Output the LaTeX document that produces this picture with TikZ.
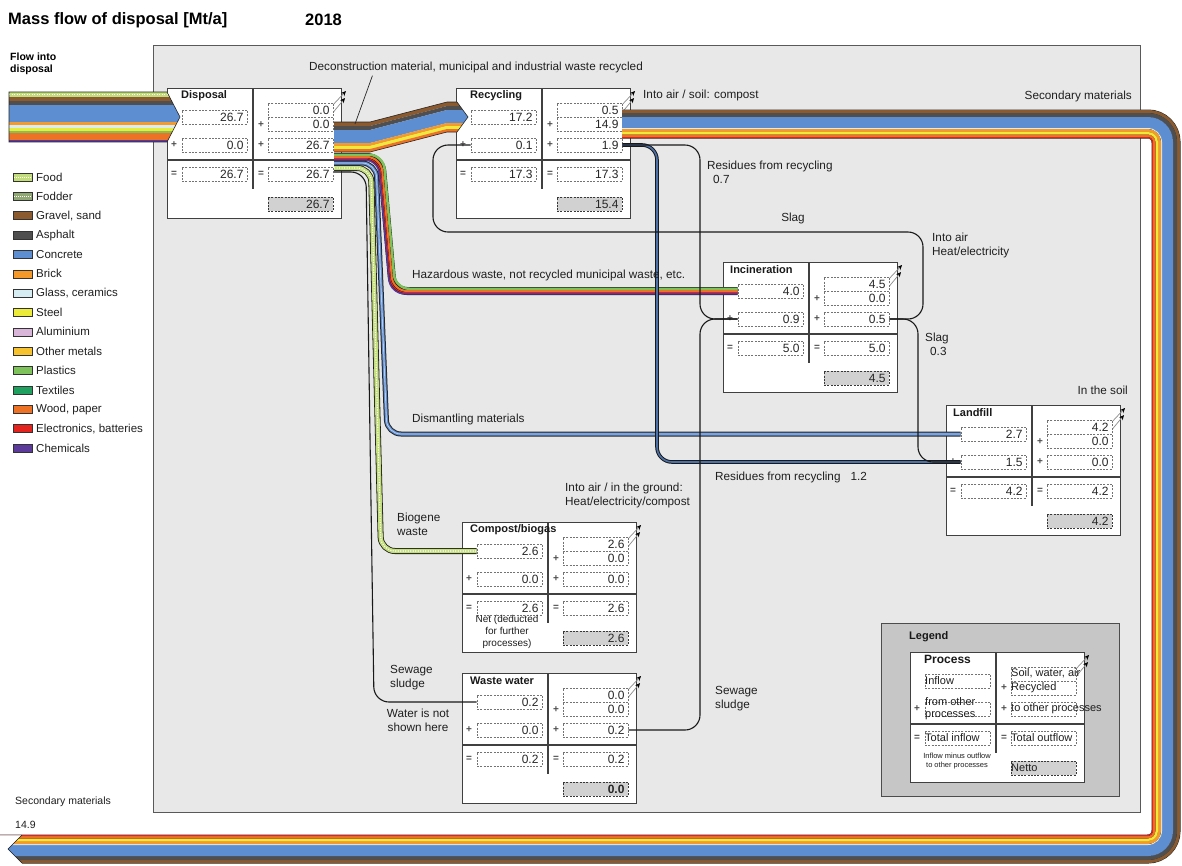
\documentclass[tikz,border=0pt]{standalone}
\usepackage{fontspec}
\setmainfont{Liberation Sans}
\usetikzlibrary{arrows.meta,calc}
\definecolor{cFood}{HTML}{C2DD7A}
\definecolor{cFodder}{HTML}{8FA874}
\definecolor{cGravel}{HTML}{8B5A2E}
\definecolor{cAsphalt}{HTML}{4F4F4F}
\definecolor{cConcrete}{HTML}{5E8ED2}
\definecolor{cBrick}{HTML}{F59A2A}
\definecolor{cGlass}{HTML}{D6EDF3}
\definecolor{cSteel}{HTML}{ECEB3A}
\definecolor{cAlu}{HTML}{D9B6D9}
\definecolor{cOther}{HTML}{F6C22E}
\definecolor{cPlastics}{HTML}{7DC25B}
\definecolor{cTextiles}{HTML}{1FA05E}
\definecolor{cWood}{HTML}{EE7226}
\definecolor{cElec}{HTML}{E4231E}
\definecolor{cChem}{HTML}{5B3A9B}
\definecolor{panel}{HTML}{E8E8E8}
\definecolor{legbg}{HTML}{C6C6C6}
\tikzset{
  lbl/.style={font=\fontsize{11.75}{14}\selectfont, text=black!88, inner sep=0pt},
  lglbl/.style={font=\fontsize{11}{12}\selectfont, text=black!88, inner sep=0pt, anchor=west},
  lblsm/.style={font=\fontsize{11.5}{13}\selectfont, text=black!88, inner sep=0pt, anchor=west},
  vbox/.style={draw=black!55, dash pattern=on 2pt off 1.3pt, line width=0.75pt, fill=white, text width=58pt, align=right, inner xsep=3.5pt, inner ysep=0pt, minimum height=14pt, font=\fontsize{12}{12}\selectfont, text=black!85},
  nbox/.style={vbox, fill=black!18, draw=black!78, line width=0.95pt},
  pframe/.style={draw=black!75, line width=1pt, fill=white},
  pdiv/.style={draw=black!75, line width=1.1pt},
  ptitle/.style={font=\bfseries\fontsize{11}{12}\selectfont, anchor=west, inner sep=0pt, text=black!90},
  sgn/.style={font=\bfseries\fontsize{10}{10}\selectfont, inner sep=0pt, text=black!70},
  outarr/.style={draw=black!45, line width=0.7pt, -{Stealth[length=5pt,width=4.5pt,color=black]}},
  blk/.style={draw=black!90, line width=1.1pt, rounded corners=15pt},
  pics/pframe/.style={code={
    \draw[pframe] (0,0) rectangle (174,130);
    \draw[pdiv] (86,0) -- (86,101);
    \draw[pdiv] (0,72) -- (174,72);
    \draw[outarr] (164,19) -- (179,3);
    \draw[outarr] (164,27) -- (178,10);
  }},
  pics/proc/.style n args={8}{code={
    \pic {pframe};
    \node[vbox] (-l1) at (47.5,29) {#1};
    \node[vbox] (-l2) at (47.5,57) {#2};
    \node[vbox] (-l3) at (47.5,86) {#3};
    \node[vbox] (-r1a) at (133.5,22) {#4};
    \node[vbox] (-r1b) at (133.5,36) {#5};
    \node[vbox] (-r2) at (133.5,57) {#6};
    \node[vbox] (-r3) at (133.5,86) {#7};
    \node[nbox] (-n) at (133.5,116) {#8};
    \node[sgn] (-s1) at (7,57) {+};
    \node[sgn] (-s2) at (7,86) {=};
    \node[sgn] (-s3) at (94,37) {+};
    \node[sgn] (-s4) at (94,57) {+};
    \node[sgn] (-s5) at (94,86) {=};
  }},
}
\begin{document}
\begin{tikzpicture}[x=1pt,y=-1pt]
\useasboundingbox (0,0) rectangle (1182,865);
\fill[white] (0,0) rectangle (1182,865);
% titles
\node[anchor=west, font=\bfseries\fontsize{16.5}{18}\selectfont, inner sep=0pt] (title) at (8,20) {Mass flow of disposal [Mt/a]};
\node[anchor=west, font=\bfseries\fontsize{16.5}{18}\selectfont, inner sep=0pt] (year) at (305,20) {2018};
\node[anchor=west, font=\bfseries\fontsize{10.5}{12}\selectfont, align=left, inner sep=0pt] (flowin) at (10,64) {Flow into\\disposal};
% panel
\draw[black!65, fill=panel, line width=1pt] (153,45) rectangle (1140,812);
% material legend
\foreach \swc/\swn [count=\i from 0] in {cFood/Food, cFodder/Fodder, cGravel/{Gravel, sand}, cAsphalt/Asphalt, cConcrete/Concrete, cBrick/Brick, cGlass/{Glass, ceramics}, cSteel/Steel, cAlu/Aluminium, cOther/Other metals, cPlastics/Plastics, cTextiles/Textiles, cWood/{Wood, paper}, cElec/{Electronics, batteries}, cChem/Chemicals}{
  \pgfmathsetmacro\yy{177+19.36*\i}
  \draw[black!80, fill=\swc, line width=0.5pt] (13,\yy-4) rectangle (32,\yy+4);
  \node[lblsm] (leg\i) at (36,\yy) {\swn};
}
\draw[white, line width=1pt, dash pattern=on 1pt off 1pt] (14,177) -- (31,177);
\draw[white, line width=1pt, dash pattern=on 1pt off 1pt] (14,196.4) -- (31,196.4);
% processes
\pic (disp) at (167,88) {proc={26.7}{0.0}{26.7}{0.0}{0.0}{26.7}{26.7}{26.7}};
\node[ptitle] (disp-t) at (181,96) {Disposal};
\pic (rec) at (456,88) {proc={17.2}{0.1}{17.3}{0.5}{14.9}{1.9}{17.3}{15.4}};
\node[ptitle] (rec-t) at (470,96) {Recycling};
\pic (inc) at (723,262) {proc={4.0}{0.9}{5.0}{4.5}{0.0}{0.5}{5.0}{4.5}};
\node[ptitle] (inc-t) at (730,270) {Incineration};
\pic (land) at (946,405) {proc={2.7}{1.5}{4.2}{4.2}{0.0}{0.0}{4.2}{4.2}};
\node[ptitle] (land-t) at (953,413) {Landfill};
\pic (comp) at (462,522) {proc={2.6}{0.0}{2.6}{2.6}{0.0}{0.0}{2.6}{2.6}};
\node[ptitle] (comp-t) at (470,530) {Compost/biogas};
\node[lbl, align=center, font=\fontsize{10}{12}\selectfont] (comp-note) at (507,632) {Net (deducted\\for further\\processes)};
\pic (ww) at (462,673) {proc={0.2}{0.0}{0.2}{0.0}{0.0}{0.2}{0.2}{\textbf{0.0}}};
\node[ptitle] (ww-t) at (470,681) {Waste water};
% inflow band
\begin{scope}
\clip (9,92) -- (167,92) -- (180,117) -- (167,142) -- (9,142) -- cycle;
\foreach \bc/\ba/\bb in {cFood/92/97, cGravel/97/101, cAsphalt/101/105, cConcrete/105/122, cBrick/122/125, cGlass/125/128, cSteel/128/131, cPlastics/131/133, cWood/133/140, cChem/140/142}
  \fill[\bc] (9,\ba) rectangle (181,\bb);
\draw[white, line width=1.1pt, dash pattern=on 1.2pt off 1.3pt] (9,94.5) -- (181,94.5);
\end{scope}
\draw[black!85, line width=0.6pt] (9,92) -- (167,92) -- (180,117) -- (167,142) -- (9,142) -- cycle;
% recycled band
\begin{scope}
\clip (330,60) -- (457,60) -- (457,102) -- (468,117) -- (457,132) -- (457,200) -- (330,200) -- cycle;
\foreach \bc/\ba/\bb in {cGravel/0/4, cAsphalt/4/8, cConcrete/8/21, cBrick/21/24, cSteel/24/27, cWood/27/30}{
  \fill[\bc] (334,{122+\ba}) -- (370,{122+\ba}) -- (447,{102+\ba}) -- (470,{102+\ba}) -- (470,{102+\bb}) -- (447,{102+\bb}) -- (370,{122+\bb}) -- (334,{122+\bb}) -- cycle;
}
\end{scope}
\draw[black!85, line width=0.6pt] (334,122) -- (370,122) -- (447,102) -- (457,102) -- (468,117) -- (457,132) -- (447,132) -- (370,152) -- (334,152);
% secondary materials band
\begin{scope}
\clip (0,0) -- (1182,0) -- (1182,865) -- (22,865) -- (22,863) -- (8,849) -- (22,835) -- (0,835) -- cycle;
\draw[black!85, line width=29pt, rounded corners=18pt] (622,124) -- (1166,124) -- (1166,849) -- (0,849);
\foreach \bc/\bd/\bw in {cGravel/0/3, cAsphalt/3/4, cConcrete/7/11, cGlass/18/1, cBrick/19/3, cSteel/22/2.5, cWood/24.5/2.5, cElec/27/1}{
  \pgfmathsetmacro\bo{\bd+\bw/2}
  \pgfmathsetmacro\br{32-\bo}
  \draw[\bc, line width=\bw pt, rounded corners=\br pt] (622,{110+\bo}) -- ({1180-\bo},{110+\bo}) -- ({1180-\bo},{863-\bo}) -- (0,{863-\bo});
}
\end{scope}
\draw[black!85, line width=0.6pt] (22,835) -- (8,849) -- (22,863);
% flows out of disposal
\coordinate (ex1) at (334,157);
\coordinate (ex2) at (334,163);
\coordinate (ex3) at (334,168);
\coordinate (ex4) at (334,172);
\draw[black!90, line width=1.1pt, rounded corners=15pt] (ex4) -- (366,172) -- (374,702) -- (ww-l1.west);
\draw[black!90, line width=6pt, rounded corners=14pt] (ex3) -- (371,168) -- (381,551) -- (comp-l1.west);
\draw[cFood, line width=4.4pt, rounded corners=14pt] (ex3) -- (371,168) -- (381,551) -- (comp-l1.west);
\draw[white, line width=1.1pt, dash pattern=on 1.2pt off 1.3pt, rounded corners=14pt] (ex3) -- (371,168) -- (381,551) -- (comp-l1.west);
\draw[black!85, line width=5pt, rounded corners=14pt] (ex2) -- (376,163) -- (387,434) -- (land-l1.west);
\draw[cConcrete, line width=3pt, rounded corners=14pt] (ex2) -- (376,163) -- (387,434) -- (land-l1.west);
\draw[cConcrete!45!white, line width=0.8pt, rounded corners=14pt] (ex2) -- (376,163) -- (387,434) -- (land-l1.west);
\draw[black!90, line width=8pt, rounded corners=14pt] (ex1) -- (381,157) -- (393,291) -- (inc-l1.west);
\foreach \bc/\bof/\bw in {cPlastics/2.25/2.5, cWood/0/2, cElec/-1.5/1, cChem/-2.75/1.5}
  \draw[\bc, line width=\bw pt, rounded corners=14pt] ($(ex1)+(0,{-(\bof)})$) -- ({381+\bof},{157-(\bof)}) -- ({393+\bof},{291-(\bof)}) -- ($(inc-l1.west)+(0,{-(\bof)})$);
% other connectors
\draw[black!90, line width=3.6pt, rounded corners=15pt] (rec-r2.east) -- (657,145) -- (657,462) -- (land-l2.west);
\draw[cConcrete!80!black, line width=1.6pt, rounded corners=15pt] (rec-r2.east) -- (657,145) -- (657,462) -- (land-l2.west);
\draw[blk] (rec-r2.east) -- (700,145) -- (700,319) -- (inc-l2.west);
\draw[blk] (ww-r2.east) -- (700,730) -- (700,319) -- (inc-l2.west);
\draw[blk] (inc-r2.east) -- (923,319) -- (923,232) -- (433,232) -- (433,145) -- (rec-l2.west);
\draw[blk] (inc-r2.east) -- (918,319) -- (918,462) -- (land-l2.west);
% labels
\node[lbl] (decon) at (476,67) {Deconstruction material, municipal and industrial waste recycled};
\coordinate (deconpt) at (355,124);
\draw[black!85, line width=0.7pt] ($(decon.south west)!0.19!(decon.south east)+(0,3)$) -- (deconpt);
\node[lbl, anchor=west] (intoair1) at (643,95) {Into air / soil: compost};
\node[lbl, anchor=east] (secmat1) at (1132,96) {Secondary materials};
\node[lbl, anchor=north west, align=left] (resid07) at (707,161) {Residues from recycling\\\hspace*{6pt}0.7};
\node[lbl] (slag1) at (793,218) {Slag};
\node[lbl, anchor=north west, align=left] (intoair2) at (932,233) {Into air\\Heat/electricity};
\node[lbl, anchor=west] (hazl) at (412,275) {Hazardous waste, not recycled municipal waste, etc.};
\node[lbl, anchor=north west, align=left] (slag2) at (925,333) {Slag\\\hspace*{5pt}0.3};
\node[lbl, anchor=east] (soil) at (1128,390) {In the soil};
\node[lbl, anchor=west] (disml) at (412,419) {Dismantling materials};
\node[lbl, anchor=west] (resid12) at (715,477) {Residues from recycling\hspace{10pt}1.2};
\node[lbl, anchor=north west, align=left] (intoair3) at (565,483) {Into air / in the ground:\\Heat/electricity/compost};
\node[lbl, anchor=north west, align=left] (bio) at (397,513) {Biogene\\waste};
\node[lbl, anchor=north west, align=left] (sew1) at (390,665) {Sewage\\sludge};
\node[lbl, anchor=north, align=center] (water) at (418,709) {Water is not\\shown here};
\node[lbl, anchor=north west, align=left] (sew2) at (715,686) {Sewage\\sludge};
\node[lbl, anchor=west, font=\fontsize{10.5}{12}\selectfont] (secmat2) at (15,802) {Secondary materials};
\node[lbl, anchor=west, font=\fontsize{10.5}{12}\selectfont] (val149) at (15,825) {14.9};
% process legend
\draw[black!70, fill=legbg, line width=1pt] (881,623) rectangle (1119,796);
\node[ptitle] (legt) at (909,637) {Legend};
\pic (lg) at (910,652) {pframe};
\node[ptitle, font=\bfseries\fontsize{12}{13}\selectfont] (lg-t) at (924,659) {Process};
\node[vbox] (lg-l1) at (957.5,681) {};
\node[vbox] (lg-l2) at (957.5,709) {};
\node[vbox] (lg-l3) at (957.5,738) {};
\node[vbox] (lg-r1a) at (1043.5,674) {};
\node[vbox] (lg-r1b) at (1043.5,688) {};
\node[vbox] (lg-r2) at (1043.5,709) {};
\node[vbox] (lg-r3) at (1043.5,738) {};
\node[nbox] (lg-n) at (1043.5,768) {};
\node[sgn] (lg-s1) at (917,709) {+};
\node[sgn] (lg-s2) at (917,738) {=};
\node[sgn] (lg-s3) at (1004,688) {+};
\node[sgn] (lg-s4) at (1004,709) {+};
\node[sgn] (lg-s5) at (1004,738) {=};
\node[lglbl] (lg-tx1) at (925,681) {Inflow};
\node[lglbl, align=left] (lg-tx2) at (925,709) {from other\\processes};
\node[lglbl] (lg-tx3) at (925,738) {Total inflow};
\node[lglbl, anchor=center, align=center, font=\fontsize{7.5}{9}\selectfont] (lg-tx4) at (957,761) {Inflow minus outflow\\to other processes};
\node[lglbl] (lg-tx5) at (1011,673) {Soil, water, air};
\node[lglbl] (lg-tx6) at (1011,688) {Recycled};
\node[lglbl] (lg-tx7) at (1011,709) {to other processes};
\node[lglbl] (lg-tx8) at (1011,738) {Total outflow};
\node[lglbl] (lg-tx9) at (1011,768) {Netto};
\end{tikzpicture}
\end{document}
